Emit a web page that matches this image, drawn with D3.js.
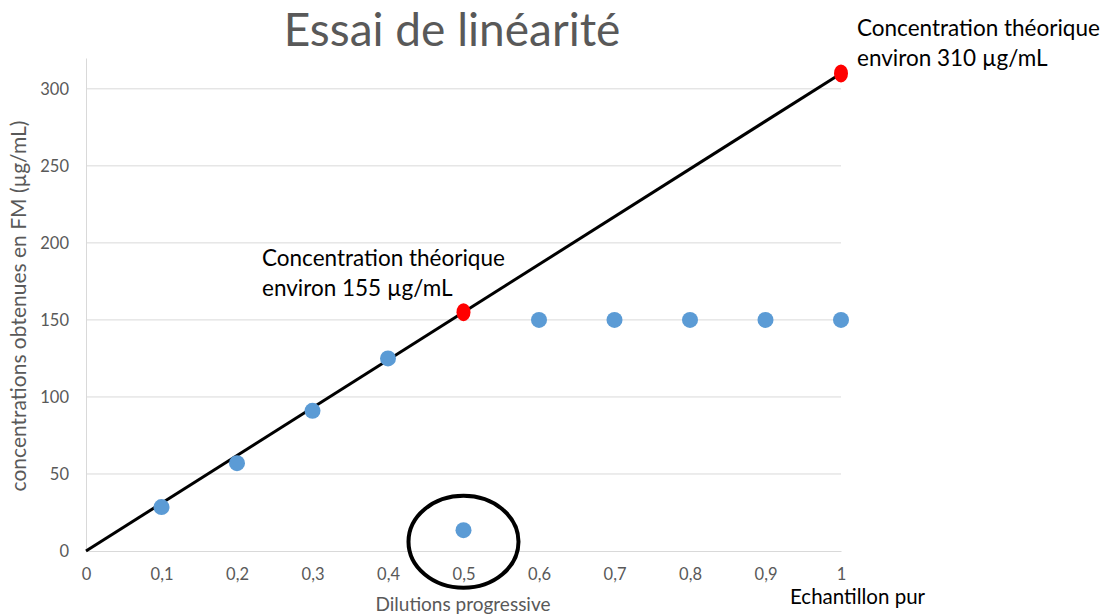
<!DOCTYPE html>
<html>
<head>
<meta charset="utf-8">
<script src="https://cdn.jsdelivr.net/npm/d3@7"></script>
<style>
  body { margin: 0; background: #fff; }
  text { font-family: Lato, "Open Sans", sans-serif; }
</style>
</head>
<body>
<div id="chart"></div>
<script>
// données
var dilutions = [0.1, 0.2, 0.3, 0.4, 0.5, 0.6, 0.7, 0.8, 0.9, 1];
var concentrations = [28.5, 57, 91, 125, 13.5, 150, 150, 150, 150, 150];
var theoX = [0.5, 1];
var theoY = [155, 310];
var droiteX = [0, 1];
var droiteY = [0, 310];
var xTicks = [0, 0.1, 0.2, 0.3, 0.4, 0.5, 0.6, 0.7, 0.8, 0.9, 1];
var yTicks = [0, 50, 100, 150, 200, 250, 300];

var width = 1112, height = 615;
var svg = d3.select("#chart").append("svg")
  .attr("width", width)
  .attr("height", height);

var x = d3.scaleLinear().domain([0, 1]).range([86, 841]);
var y = d3.scaleLinear().domain([0, 320]).range([551, 58]);

// grille horizontale
svg.append("g")
  .selectAll("line")
  .data(yTicks.filter(function(d) { return d > 0; }))
  .enter().append("line")
  .attr("x1", x(0)).attr("x2", x(1))
  .attr("y1", function(d) { return y(d); })
  .attr("y2", function(d) { return y(d); })
  .style("stroke", "#d9d9d9").style("stroke-width", 1);

// axes
var xAxis = svg.append("g")
  .attr("transform", "translate(0," + y(0) + ")")
  .call(d3.axisBottom(x).tickValues(xTicks).tickSize(0).tickPadding(17)
    .tickFormat(function(d) { return d === 0 || d === 1 ? d : String(d).replace(".", ","); }));
xAxis.select(".domain").style("stroke", "#d9d9d9");
xAxis.selectAll("text").style("font-size", "16.5px").style("fill", "#595959");

var yAxis = svg.append("g")
  .attr("transform", "translate(" + x(0) + ",0)")
  .call(d3.axisLeft(y).tickValues(yTicks).tickSize(0).tickPadding(17));
yAxis.select(".domain").style("stroke", "#d9d9d9");
yAxis.selectAll("text").style("font-size", "16.5px").style("fill", "#595959");

// droite théorique
var line = d3.line()
  .x(function(d) { return x(d[0]); })
  .y(function(d) { return y(d[1]); });
svg.append("path")
  .datum(d3.zip(droiteX, droiteY))
  .attr("d", line)
  .style("fill", "none")
  .style("stroke", "#000")
  .style("stroke-width", 3);

// points mesurés
svg.append("g")
  .selectAll("circle")
  .data(d3.zip(dilutions, concentrations))
  .enter().append("circle")
  .attr("cx", function(d) { return x(d[0]); })
  .attr("cy", function(d) { return y(d[1]); })
  .attr("r", 8)
  .style("fill", "#5b9bd5");

// points théoriques
svg.append("g")
  .selectAll("ellipse")
  .data(d3.zip(theoX, theoY))
  .enter().append("ellipse")
  .attr("cx", function(d) { return x(d[0]); })
  .attr("cy", function(d) { return y(d[1]); })
  .attr("rx", 7).attr("ry", 9)
  .style("fill", "#ff0000");

// cercle autour du point aberrant
svg.append("ellipse")
  .attr("cx", x(0.5)).attr("cy", y(6))
  .attr("rx", 55).attr("ry", 46)
  .style("fill", "none")
  .style("stroke", "#000")
  .style("stroke-width", 4);

// titre
svg.append("text")
  .attr("x", 452).attr("y", 46)
  .attr("text-anchor", "middle")
  .style("font-size", "46px")
  .style("fill", "#595959")
  .text("Essai de linéarité");

// titres des axes
svg.append("text")
  .attr("transform", "translate(26,306) rotate(-90)")
  .attr("text-anchor", "middle")
  .style("font-size", "21px")
  .style("fill", "#595959")
  .text("concentrations obtenues en FM (µg/mL)");

svg.append("text")
  .attr("x", 463).attr("y", 611)
  .attr("text-anchor", "middle")
  .style("font-size", "19px")
  .style("fill", "#595959")
  .text("Dilutions progressive");

svg.append("text")
  .attr("x", 790).attr("y", 604)
  .style("font-size", "20.5px")
  .style("fill", "#000")
  .text("Echantillon pur");

// annotations
function annot(px, py, valeur) {
  var t = svg.append("text").attr("x", px).attr("y", py)
    .style("font-size", "22.5px").style("fill", "#000");
  t.append("tspan").attr("x", px).text("Concentration théorique");
  t.append("tspan").attr("x", px).attr("dy", 30).text("environ " + valeur + " µg/mL");
}
annot(857, 36, 310);
annot(262, 266, 155);
</script>
</body>
</html>
